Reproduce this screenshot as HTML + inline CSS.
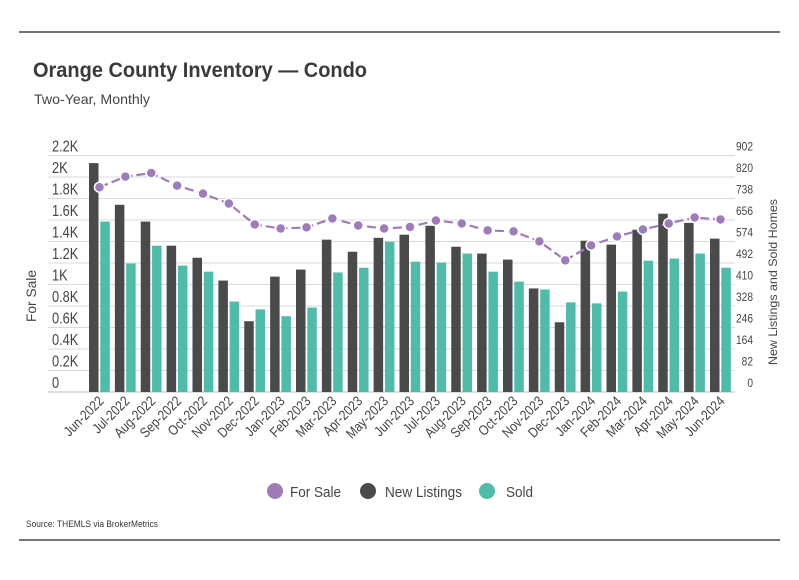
<!DOCTYPE html>
<html><head><meta charset="utf-8"><style>
body{margin:0;background:#fff;width:799px;height:575px;overflow:hidden;font-family:"Liberation Sans",sans-serif;}
svg text{font-family:"Liberation Sans",sans-serif;}
</style></head><body>
<svg id="c" width="799" height="575" xmlns="http://www.w3.org/2000/svg">
<line x1="19" y1="32" x2="780" y2="32" stroke="#222" stroke-width="1.2"/>
<text x="33" y="77" font-size="21" font-weight="bold" fill="#3a3a3a" textLength="334" lengthAdjust="spacingAndGlyphs">Orange County Inventory — Condo</text>
<text x="34" y="104" font-size="14" fill="#444" textLength="116" lengthAdjust="spacingAndGlyphs">Two-Year, Monthly</text>
<g id="grid"></g><g id="bars"></g><g id="line"></g><g id="axes"></g>
<text transform="translate(36,296) rotate(-90)" text-anchor="middle" font-size="14" fill="#444" textLength="52" lengthAdjust="spacingAndGlyphs">For Sale</text>
<text transform="translate(777,282) rotate(-90)" text-anchor="middle" font-size="12" fill="#444" textLength="166" lengthAdjust="spacingAndGlyphs">New Listings and Sold Homes</text>
<g>
<circle cx="275" cy="491" r="8" fill="#9e7cb9"/>
<text x="290" y="497" font-size="15" fill="#444" textLength="51" lengthAdjust="spacingAndGlyphs">For Sale</text>
<circle cx="368" cy="491" r="8" fill="#4a4a4a"/>
<text x="385" y="497" font-size="15" fill="#444" textLength="77" lengthAdjust="spacingAndGlyphs">New Listings</text>
<circle cx="487" cy="491" r="8" fill="#4fbcaa"/>
<text x="506" y="497" font-size="15" fill="#444" textLength="27" lengthAdjust="spacingAndGlyphs">Sold</text>
</g>
<text x="26" y="527" font-size="9.5" fill="#333" textLength="132" lengthAdjust="spacingAndGlyphs">Source:  THEMLS via BrokerMetrics</text>
<line x1="19" y1="540" x2="780" y2="540" stroke="#222" stroke-width="1.2"/>
</svg>
<script>
const months=["Jun-2022","Jul-2022","Aug-2022","Sep-2022","Oct-2022","Nov-2022","Dec-2022","Jan-2023","Feb-2023","Mar-2023","Apr-2023","May-2023","Jun-2023","Jul-2023","Aug-2023","Sep-2023","Oct-2023","Nov-2023","Dec-2023","Jan-2024","Feb-2024","Mar-2024","Apr-2024","May-2024","Jun-2024"];
const forSale=[1905,2003,2037,1920,1845,1753,1558,1521,1531,1614,1549,1521,1535,1595,1568,1503,1494,1401,1225,1364,1447,1512,1568,1623,1605];
const newListings=[873,714,650,558,512,425,270,440,467,581,535,588,600,634,554,528,505,395,266,577,562,619,680,645,585];
const sold=[650,490,558,482,459,345,315,289,322,456,474,573,497,494,528,459,421,391,342,338,383,501,509,528,474];
const leftTicks=["0","0.2K","0.4K","0.6K","0.8K","1K","1.2K","1.4K","1.6K","1.8K","2K","2.2K"];
const rightTicks=["0","82","164","246","328","410","492","574","656","738","820","902"];
const NS="http://www.w3.org/2000/svg";
const y0=392,yTop=155.5,leftMax=2200,rightMax=902;
const yL=v=>y0-(v/leftMax)*(y0-yTop);
const yR=v=>y0-(v/rightMax)*(y0-yTop);
const step=25.875,x0=99.5;
const xC=i=>x0+i*step;
function mk(t,a,parent){const e=document.createElementNS(NS,t);for(const k in a)e.setAttribute(k,a[k]);document.getElementById(parent).appendChild(e);return e;}
for(let i=0;i<leftTicks.length;i++){
 const y=y0-i*(y0-yTop)/(leftTicks.length-1);
 const g=mk("line",{x1:48,x2:735,y1:y,y2:y,stroke:i==0?"#bbb":"#d9d9d9","stroke-width":1},"grid");
 
 
 const t=mk("text",{transform:`translate(52,${y-4}) scale(0.8,1)`,"font-size":16,fill:"#444"},"axes");t.textContent=leftTicks[i];
 
 
 const r=mk("text",{transform:`translate(753,${y-5}) scale(0.85,1)`,"font-size":12,fill:"#444","text-anchor":"end"},"axes");r.textContent=rightTicks[i];
 
 
}
months.forEach((m,i)=>{
 const c=xC(i);
 const b=mk("rect",{x:c-10.5,y:yR(newListings[i]),width:9.5,height:y0-yR(newListings[i]),fill:"#4a4a4a"},"bars");
 
 
 const s=mk("rect",{x:c+0.8,y:yR(sold[i]),width:9.5,height:y0-yR(sold[i]),fill:"#4fbcaa"},"bars");
 
 
 const t=mk("text",{transform:`translate(${c+5},402) rotate(-45) scale(0.85,1)`,"text-anchor":"end","font-size":14,fill:"#444"},"axes");t.textContent=m;
 
 
});
const pl=mk("polyline",{points:forSale.map((v,i)=>xC(i)+","+yL(v)).join(" "),fill:"none",stroke:"#9e7cb9","stroke-width":2.2,"stroke-dasharray":"9,4"},"line");


forSale.forEach((v,i)=>{
 const p=mk("circle",{cx:xC(i),cy:yL(v),r:5,fill:"#9e7cb9",stroke:"#fff","stroke-width":1.5},"line");
 
 
});
</script>
</body></html>
